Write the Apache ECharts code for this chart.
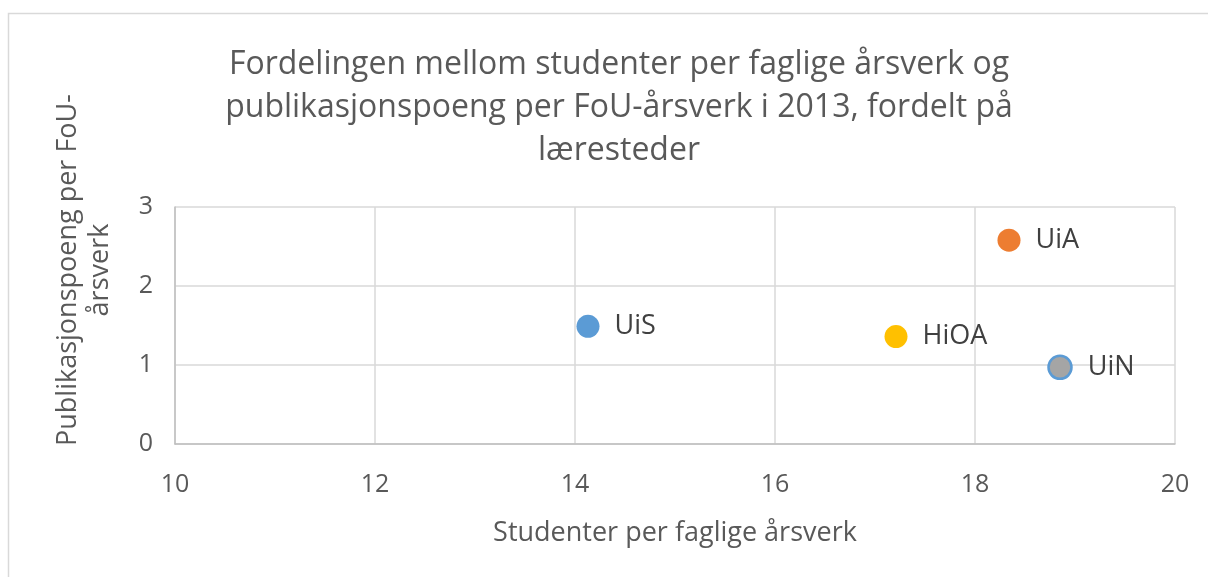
<!DOCTYPE html>
<html>
<head>
<meta charset="utf-8">
<script src="https://cdn.jsdelivr.net/npm/echarts@6/dist/echarts.min.js"></script>
<style>
  html, body { margin: 0; padding: 0; background: #fff; }
  #main { width: 1208px; height: 577px; }
</style>
</head>
<body>
<div id="main"></div>
<script>
// lærested, studenter per faglige årsverk, publikasjonspoeng per FoU-årsverk
var names = ['UiS', 'UiA', 'HiOA', 'UiN'];
var studenter = [14.13, 18.34, 17.21, 18.85];
var poeng = [1.49, 2.58, 1.36, 0.97];
var colors = ['#5B9BD5', '#ED7D31', '#FFC000', '#A5A5A5'];
var borders = [null, null, null, '#5B9BD5'];

var font = '"Open Sans", sans-serif';

function initChart() {
    var myChart = echarts.init(document.getElementById('main'));
    var points = names.map(function (n, i) {
        return {
            name: n,
            value: [studenter[i], poeng[i]],
            itemStyle: {
                color: colors[i],
                opacity: 1,
                borderColor: borders[i] || colors[i],
                borderWidth: borders[i] ? 2.5 : 0
            }
        };
    });
    var option = {
        animation: false,
        title: {
            text: 'Fordelingen mellom studenter per faglige årsverk og\npublikasjonspoeng per FoU-årsverk i 2013, fordelt på\nlæresteder',
            left: 614,
            top: 38,
            textAlign: 'center',
            textStyle: {
                fontFamily: font,
                fontSize: 32,
                fontWeight: 'normal',
                color: '#595959',
                lineHeight: 43
            }
        },
        graphic: [{
            type: 'rect',
            shape: { x: 8.5, y: 13.5, width: 1300, height: 700 },
            style: { fill: 'none', stroke: '#d9d9d9', lineWidth: 1.5 },
            silent: true
        }, {
            // y-aksetittel, sentrert litt over plottets midte som i Excel
            type: 'text',
            x: 84,
            y: 270,
            rotation: Math.PI / 2,
            style: {
                text: 'Publikasjonspoeng per FoU-\nårsverk',
                fontFamily: font,
                fontSize: 27,
                fill: '#595959',
                align: 'center',
                verticalAlign: 'middle',
                lineHeight: 32
            },
            silent: true
        }],
        grid: { left: 175, top: 207, width: 1000, height: 237 },
        xAxis: {
            type: 'value',
            min: 10,
            max: 20,
            interval: 2,
            name: 'Studenter per faglige årsverk',
            nameLocation: 'middle',
            nameGap: 76,
            nameTextStyle: { fontFamily: font, fontSize: 27, color: '#595959' },
            axisLine: { show: true, lineStyle: { color: '#bfbfbf', width: 1.5 } },
            axisTick: { show: false },
            axisLabel: { fontFamily: font, fontSize: 25, color: '#595959', margin: 28 },
            splitLine: { show: true, lineStyle: { color: '#d9d9d9', width: 1.5 } }
        },
        yAxis: {
            type: 'value',
            min: 0,
            max: 3,
            interval: 1,
            axisLine: { show: true, lineStyle: { color: '#bfbfbf', width: 1.5 } },
            axisTick: { show: false },
            axisLabel: { fontFamily: font, fontSize: 25, color: '#595959', margin: 22 },
            splitLine: { show: true, lineStyle: { color: '#d9d9d9', width: 1.5 } }
        },
        series: [{
            type: 'scatter',
            symbolSize: 23,
            data: points,
            label: {
                show: true,
                position: 'right',
                distance: 15,
                formatter: '{b}',
                fontFamily: font,
                fontSize: 27,
                color: '#404040'
            }
        }]
    };
    myChart.setOption(option);
}

initChart();
</script>
</body>
</html>
